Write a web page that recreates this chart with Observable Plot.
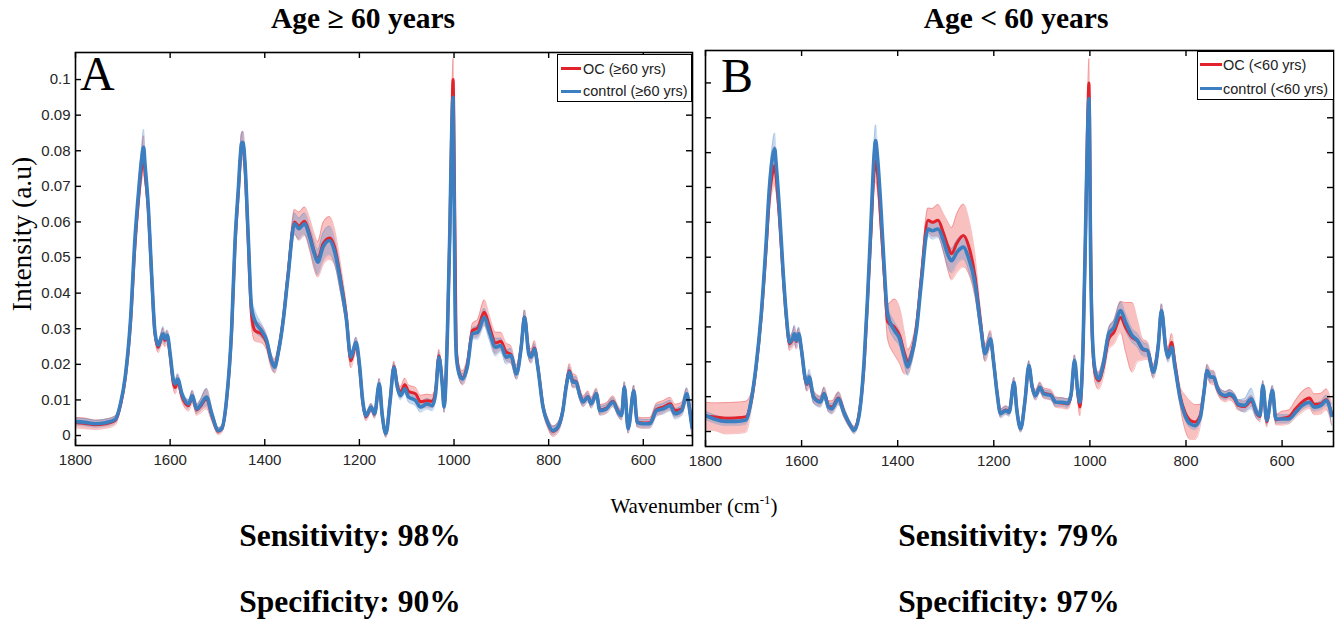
<!DOCTYPE html>
<html><head><meta charset="utf-8">
<script src="https://cdn.jsdelivr.net/npm/d3@7"></script>
<script src="https://cdn.jsdelivr.net/npm/@observablehq/plot@0.6"></script>
<style>
html,body{margin:0;padding:0;background:#fff;}
body{width:1338px;height:621px;position:relative;overflow:hidden;font-family:"Liberation Serif","Times New Roman",serif;color:#000;}
.abs{position:absolute;white-space:nowrap;line-height:0;}
.ctr{transform:translateX(-50%);}
.bold{font-weight:bold;}
.leg{position:absolute;box-sizing:border-box;border:1.6px solid #000;background:#fff;}
.legtxt{position:absolute;white-space:nowrap;line-height:0;font-family:"Liberation Sans",Arial,sans-serif;font-size:14.5px;color:#222;}
.sw{position:absolute;height:3px;}
</style></head><body>
<script>
// ---- data (intensity in a.u. x 1000), wavenumber in cm^-1 ----
const wavenumber = [
1800,1780,1758,1737,1716,1705,1695,1684,1674,1667,
1660,1656,1653,1646,1639,1632,1625,1619,1615,1611,
1606,1600,1593,1589,1584,1575,1561,1553,1544,1537,
1523,1512,1498,1491,1481,1470,1463,1456,1449,1446,
1442,1435,1428,1421,1407,1396,1386,1379,1372,1361,
1351,1337,1328,1316,1305,1295,1288,1277,1263,1253,
1239,1228,1218,1207,1200,1193,1186,1175,1168,1158,
1152,1144,1135,1127,1120,1113,1104,1096,1081,1071,
1057,1046,1039,1032,1025,1021,1014,1009,1005,1002,
998,995,989,982,972,961,950,936,926,912,
901,890,880,868,858,851,842,837,830,823,
812,802,791,781,770,763,756,749,742,735,
727,717,710,699,692,678,664,653,646,640,
632,620,613,600,586,572,558,543,533,519,
508,501,497];

// Panel A (Age >= 60)
const ocA = [
3.6,3.4,3.0,3.3,4.2,8.5,16,31,54,66,
75.5,78.7,74,63,44.5,28.5,24.8,27,28,26.7,
27.6,22.5,14.5,13.5,15.3,11,8.4,10.8,7.2,8,
10.3,5.8,1.2,1.8,9.5,29.5,53,68,81,81.5,
76,55,34,29.5,28.5,26,20.8,19.5,23,32.5,
45,60,58.8,60.2,56.5,51.5,49.5,53.8,55.5,53.2,
43.5,34,21,25.5,19.6,9.5,5.3,7.8,6,14.2,
6,0.6,10,19.4,14.2,12.3,14.3,12.4,11.7,9.5,
9.8,9.6,12.5,22.4,15,8.3,28.6,56,86,100,
57,24,17.8,16.2,19.8,29.5,30.2,34.6,31,26,
26.5,23.5,22.8,17.8,25,33.3,23.5,22.3,24.6,19.5,
8.2,3.6,1.2,2.1,7,14,18.2,15.4,15.2,12,
9.6,11,9.2,11.8,7.2,7.7,9.6,6.8,5.8,13.6,
2.1,12.6,3.8,3.5,3.6,7.3,8,8.9,7,7.5,
11.2,6.5,2.5];
const ocA_sd = [
1.5,1.5,1.3,1.3,1.3,1.2,1.5,1.8,2.5,3,
4,5.5,3.5,2.5,2,1.5,1.5,1.8,2.2,1.8,
1.8,1.5,1.5,1.8,1.8,1.5,1.5,1.8,1.5,1.8,
2.8,1.8,1,1,1.2,1.5,2,2.5,4,4,
3,2.5,3.5,3,2.5,2,2,2,2,2,
2.5,3.5,4,4,4.5,5,5,6,6,5,
4,3,2,2,2,1.5,1.2,1.2,1.2,1.8,
1.5,1.2,1.5,1.5,1.5,1.5,1.8,1.8,1.8,1.8,
1.8,1.8,1.8,1.8,1.8,1.8,2,4,6,6,
4,2.5,2,2,2,2,2.5,3.5,3,3,
2.5,2.5,2.5,2,2,2,2,2,2,2,
1.5,1.5,1.5,1.5,1.5,1.5,2,2,1.8,1.8,
1.5,1.5,1.5,1.5,1.5,1.5,1.5,1.5,1.5,1.5,
1.5,1.5,1.5,1.5,1.5,1.8,1.8,1.8,1.8,1.8,
2,2.2,3];
const ctrlA = [
3.9,3.7,3.3,3.6,4.5,8.9,16.4,32,56,68,
78,81,76,64,45,29,25.3,27.5,28.6,27.2,
28.2,23,15.5,14.5,15.9,11.7,8.9,11.2,7.5,8.4,
10.8,6.1,1.4,1.9,9.8,30,54,69,82,82.4,
77,56,36,32.3,29.5,26.7,21.1,19.2,22.9,32.3,
44.5,59.5,58.1,59.5,55.7,51,48.7,52.9,54.8,52,
42.6,33.2,22,26.2,20.1,9.8,5.6,8,6.1,14.5,
6.1,0.5,9.8,19.2,13.6,11.2,13.1,10.8,9.8,8,
8.9,8.4,11.7,22,14.5,8,28.6,56.6,84.7,95,
37.9,22,17.3,15.9,19.2,28.6,29,33.2,29.5,24.8,
25.3,22,22.5,17.3,24.8,33.2,22.9,22,24.3,19.2,
8,3.7,1.4,2.3,7,13.6,17.8,15,15,11.7,
9.4,10.8,8.9,11.7,7,7.5,9.4,6.6,5.6,13.6,
1.9,12.6,3.7,3.3,3.3,7,7.5,8.4,6.1,7,
11.7,6.1,2.3];
const ctrlA_sd = [
1,1,1,1,1,1,1.2,1.5,2,2.5,
3.5,5,3,2,1.5,1.2,1.2,1.5,2,1.5,
1.5,1.2,1.2,1.5,1.5,1.2,1.2,1.5,1.2,1.5,
2.5,1.5,0.8,0.8,1,1.2,1.5,2,3,3,
2.5,2,3,3,2,1.5,1.5,1.5,1.5,1.5,
2,3,3,3,3,3.5,3.5,4,4,3.5,
3,2,1.5,1.5,1.5,1.2,1,1,1,1.5,
1.2,1,1.2,1.2,1.2,1.2,1.5,1.5,1.5,1.5,
1.5,1.5,1.5,1.5,1.5,1.5,2,3,4,4,
3,2,1.5,1.5,1.5,1.5,2,2.5,2.5,2.5,
2,2,2,1.5,1.5,2,1.5,1.5,1.5,1.5,
1.2,1.2,1.2,1.2,1.2,1.2,1.5,1.5,1.5,1.5,
1.2,1.2,1.2,1.2,1.2,1.2,1.2,1.2,1.2,1.5,
1.2,1.5,1.2,1.2,1.2,1.5,1.5,1.5,1.5,1.5,
1.8,2,3];

// Panel B (Age < 60)
const ocB = [
4.4,4.2,3.8,3.9,4.2,8.5,18,33,52,67,
74.5,76.3,73,61,46,33,25.2,26.3,27.6,25.8,
27.6,23,15.3,13.5,14.5,10,8.7,11,7.3,7,
9.6,5.6,1.6,0.5,4.5,19,37,56,75,77.7,
74,60,45,31.5,30,27.5,22.5,20,22,30,
44,60.6,60,60.6,57,53,51,54,56.2,53.5,
44.5,32,22.5,26.5,19.5,11,5.3,6.2,5.8,14,
6.2,1,9,18.7,12.7,10.5,12.7,11,10.5,8.4,
8.2,7.9,10.5,20,10.5,7,25,57,87,100,
50,27,16.5,14.6,18.5,26.5,28.5,32.8,30,27,
26,23.5,23.2,17.2,24.5,34.5,24,22.3,25.6,19.5,
10,5.5,3.2,2.7,4.8,10.8,17.3,15.6,15.4,12.5,
10.6,10,10.5,9.4,7.6,7.2,8.8,5.2,4.3,13,
2.8,11.6,3.4,3.8,4.2,6.5,8.5,9.6,7.8,8,
9.2,7.3,5];
const ocB_sd = [
4,4,4.5,4.5,4.5,2.5,2,2.5,3,4,
5,5.5,4.5,3,2.5,2,2,2.2,2.5,2.2,
2,1.8,1.8,2,2,1.8,1.5,1.8,1.5,1.8,
1.8,1.5,1,1,1.5,2,3,4,5,6,
5,4,4,5,8,8,6,3.5,3,2.5,
2.5,3.5,4,4.5,5.5,7,7.5,8.5,9,8,
6,3.5,2.5,2.5,2,1.5,1.2,1.2,1.2,1.5,
1.5,1.2,1.5,1.5,1.5,1.5,1.5,1.5,1.5,1.5,
1.5,1.5,1.5,2,2,2.5,3,5,6,7,
5,3,2.5,2.5,3,3,3.5,4.5,7,10,
6,3,2.5,2,2,2,2,2,2.5,2.5,
3,5,5.5,5,3,2,2,2,2,1.5,
1.5,1.5,1.5,1.5,1.5,1.5,1.5,1.5,1.5,1.5,
1.5,1.5,1.5,2,2,2.5,3,3,3,3,
3,3,3];
const ctrlB = [
4.6,3.5,2.9,2.9,3.3,8.9,18.5,33.7,53.8,70,
79.2,81.1,76.8,63.4,47.1,33.7,25.6,26.6,28,26.1,
28,23.2,15.6,13.7,15.6,9.8,8.4,10.8,7,6.5,
9.4,5.5,1.7,0.3,4.1,20,37.6,58.6,79.6,83.5,
78.7,64.3,47.1,33.7,29,26.6,21.3,18.5,21.3,29,
42.4,58.1,57.6,58.1,54.8,50.5,49,51.4,52.9,50,
42.4,30.9,22.3,26.6,19.4,10.8,5.1,6,5.5,14.1,
6,0.8,8.9,18.9,12.7,10.3,12.7,10.8,10.3,8.4,
8.4,8.1,10.8,20.4,11.3,8.4,26,58,85,95.5,
45,28,17.5,15.1,19.4,28,29.9,34.7,31.4,27.5,
26.1,23.7,23.2,17,24.2,34.7,23.7,21.3,24.2,18.5,
9.4,4.6,2.2,1.7,4.1,10.8,17.5,15.6,15.6,12.7,
10.8,10.3,10.8,9.8,7.9,7.5,9.4,5.5,4.6,13.2,
3.2,11.8,3.6,3.6,3.6,5.5,7.5,8.4,7,7.5,
8.9,7,4.6];
const ctrlB_sd = [
1.2,1.2,1.2,1.2,1.2,1.2,1.5,1.8,2.5,3,
4,4.5,3,2.2,1.8,1.5,1.5,2,2.5,2,
2,1.8,1.8,2,2.2,1.8,1.5,1.8,1.5,1.5,
1.8,1.5,1,1,1.2,1.5,2,2.5,4,4.5,
3,2.2,2,2.5,2.5,2.2,2.2,2.5,2,1.8,
2,2,2.5,2.5,3,3.5,3.5,3.5,3.5,3.5,
3,2.5,2,1.8,1.5,1.2,1.2,1.2,1.2,1.5,
1.2,1,1.2,1.5,1.2,1.2,1.2,1.2,1.2,1.2,
1.2,1.2,1.2,1.5,1.2,1.2,2,3,4,4,
3,2,1.5,1.5,1.5,1.8,2,2.5,2.5,2,
2,2,1.8,1.5,1.5,2,1.5,1.5,1.5,1.5,
1.2,1.2,1.2,1.2,1.2,1.2,1.5,1.5,1.5,1.2,
1.2,1.2,1.2,1.2,1.2,2,3,1.8,1.2,1.5,
1.2,1.5,1.2,1.2,1.2,1.2,1.2,1.2,1.2,1.2,
1.5,1.8,3];

const xTicks = [1800, 1600, 1400, 1200, 1000, 800, 600];
const yTicks = [0, 0.01, 0.02, 0.03, 0.04, 0.05, 0.06, 0.07, 0.08, 0.09, 0.1];
const titles = ["Age \u2265 60 years", "Age < 60 years"];
const panelLetters = ["A", "B"];
const legendLabels = [["OC (\u226560 yrs)", "control (\u226560 yrs)"], ["OC (<60 yrs)", "control (<60 yrs)"]];
const sensitivity = ["Sensitivity: 98%", "Sensitivity: 79%"];
const specificity = ["Specificity: 90%", "Specificity: 97%"];

// ---- styles ----
const RED = "#e3232b", BLUE = "#3b7fc0";
const RED_FILL = "#ee5a5a", BLUE_FILL = "#5b8fcf";

function rows(mean, sd) {
  return wavenumber.map((w, i) => ({w, m: mean[i] / 1000, lo: (mean[i] - sd[i]) / 1000, hi: (mean[i] + sd[i]) / 1000}));
}

function panel({oc, ocSd, ctrl, ctrlSd, xDomain, yDomain, width, height, mt, mb, ml, mr, yLabels}) {
  const ocRows = rows(oc, ocSd), ctRows = rows(ctrl, ctrlSd);
  const innerH = height - mt - mb, innerW = width - ml - mr, T = 6;
  const curve = "monotone-x";
  const marks = [
    Plot.areaY(ocRows, {x: "w", y1: "lo", y2: "hi", fill: RED_FILL, fillOpacity: 0.38, curve, clip: true}),
    Plot.lineY(ocRows, {x: "w", y: "lo", stroke: RED, strokeOpacity: 0.35, strokeWidth: 0.8, curve, clip: true}),
    Plot.lineY(ocRows, {x: "w", y: "hi", stroke: RED, strokeOpacity: 0.35, strokeWidth: 0.8, curve, clip: true}),
    Plot.areaY(ctRows, {x: "w", y1: "lo", y2: "hi", fill: BLUE_FILL, fillOpacity: 0.35, curve, clip: true}),
    Plot.lineY(ctRows, {x: "w", y: "lo", stroke: BLUE, strokeOpacity: 0.3, strokeWidth: 0.8, curve, clip: true}),
    Plot.lineY(ctRows, {x: "w", y: "hi", stroke: BLUE, strokeOpacity: 0.3, strokeWidth: 0.8, curve, clip: true}),
    Plot.lineY(ocRows, {x: "w", y: "m", stroke: RED, strokeWidth: 3, curve, clip: true}),
    Plot.lineY(ctRows, {x: "w", y: "m", stroke: BLUE, strokeWidth: 3.6, curve, clip: true}),
    Plot.ruleX(xTicks, {x: d => d, insetTop: innerH - T, stroke: "#000", strokeWidth: 1.4}),
    Plot.ruleX(xTicks, {x: d => d, insetBottom: innerH - T, stroke: "#000", strokeWidth: 1.4}),
    Plot.ruleY(yTicks, {y: d => d, insetRight: innerW - T, stroke: "#000", strokeWidth: 1.4}),
    Plot.ruleY(yTicks, {y: d => d, insetLeft: innerW - T, stroke: "#000", strokeWidth: 1.4}),
    Plot.axisX(xTicks, {anchor: "bottom", tickSize: 0, tickPadding: 9, fontSize: 15, label: null, tickFormat: d => String(d)}),
    Plot.frame({stroke: "#000", strokeWidth: 1.6})
  ];
  if (yLabels) marks.push(Plot.axisY(yTicks, {anchor: "left", tickSize: 0, tickPadding: 5, fontSize: 15, label: null,
    tickFormat: d => d === 0 ? "0" : String(+d.toFixed(2))}));
  return Plot.plot({
    width, height, marginTop: mt, marginBottom: mb, marginLeft: ml, marginRight: mr,
    style: {overflow: "visible", fontFamily: "'Liberation Sans', Arial, sans-serif", color: "#262626", background: "transparent"},
    x: {domain: xDomain, label: null},
    y: {domain: yDomain, label: null, axis: yLabels ? undefined : null},
    marks
  });
}

function place(node, left, top) {
  node.style.position = "absolute"; node.style.left = left + "px"; node.style.top = top + "px";
  document.body.appendChild(node);
}
function text(str, {x, baseline, size, bold = false, center = false, family}) {
  const d = document.createElement("div");
  d.className = "abs" + (center ? " ctr" : "") + (bold ? " bold" : "");
  d.style.left = x + "px";
  d.style.top = (baseline - 0.34 * size) + "px";
  d.style.fontSize = size + "px";
  if (family) d.style.fontFamily = family;
  d.textContent = str;
  document.body.appendChild(d);
  return d;
}

const pA = panel({oc: ocA, ocSd: ocA_sd, ctrl: ctrlA, ctrlSd: ctrlA_sd, xDomain: [1800, 496], yDomain: [-0.0028, 0.1076],
  width: 698, height: 480, mt: 52, mb: 35, ml: 75, mr: 6, yLabels: true});
place(pA, 0, 0);
const pB = panel({oc: ocB, ocSd: ocB_sd, ctrl: ctrlB, ctrlSd: ctrlB_sd, xDomain: [1800, 493], yDomain: [-0.0043, 0.1093],
  width: 640, height: 480, mt: 50, mb: 34, ml: 7, mr: 5, yLabels: false});
place(pB, 698, 0);

// titles
text(titles[0], {x: 363, baseline: 28, size: 29.5, bold: true, center: true});
text(titles[1], {x: 1016, baseline: 28, size: 29.5, bold: true, center: true});
// panel letters
text(panelLetters[0], {x: 80, baseline: 90, size: 48});
text(panelLetters[1], {x: 721, baseline: 92, size: 48});
// y label
const yl = document.createElement("div");
yl.textContent = "Intensity (a.u)";
yl.style.cssText = "position:absolute;left:22px;top:234px;font-size:27.5px;white-space:nowrap;line-height:1;transform:translate(-50%,-50%) rotate(-90deg);";
document.body.appendChild(yl);
// x label
const xl = document.createElement("div");
xl.className = "abs ctr";
xl.style.left = "694px"; xl.style.top = (507 - 0.34 * 21) + "px"; xl.style.fontSize = "21px";
xl.innerHTML = "Wavenumber (cm<sup style='font-size:13px;vertical-align:9px;line-height:0'>-1</sup>)";
document.body.appendChild(xl);
// metrics
text(sensitivity[0], {x: 350, baseline: 547, size: 31.5, bold: true, center: true});
text(specificity[0], {x: 350, baseline: 613, size: 31.5, bold: true, center: true});
text(sensitivity[1], {x: 1009, baseline: 547, size: 31.5, bold: true, center: true});
text(specificity[1], {x: 1009, baseline: 613, size: 31.5, bold: true, center: true});

// legends
function legend(labels, {left, top, width, height, sw0, sw1, tx, b0, b1, l0, l1}) {
  const box = document.createElement("div");
  box.className = "leg";
  box.style.left = left + "px"; box.style.top = top + "px"; box.style.width = width + "px"; box.style.height = height + "px";
  document.body.appendChild(box);
  [[RED, l0, labels[0], b0], [BLUE, l1, labels[1], b1]].forEach(([c, ly, lab, bl]) => {
    const s = document.createElement("div");
    s.className = "sw"; s.style.background = c;
    s.style.left = sw0 + "px"; s.style.width = (sw1 - sw0) + "px"; s.style.top = (ly - 1.5) + "px";
    document.body.appendChild(s);
    const t = document.createElement("div");
    t.className = "legtxt"; t.textContent = lab;
    t.style.left = tx + "px"; t.style.top = (bl - 0.34 * 14.5) + "px";
    document.body.appendChild(t);
  });
}
legend(legendLabels[0], {left: 557, top: 54, width: 135, height: 48, sw0: 561, sw1: 581, tx: 583, l0: 68, l1: 91, b0: 74, b1: 96});
legend(legendLabels[1], {left: 1197, top: 51, width: 137, height: 49, sw0: 1200, sw1: 1222, tx: 1223, l0: 64, l1: 88, b0: 70, b1: 94});
</script>
</body></html>
